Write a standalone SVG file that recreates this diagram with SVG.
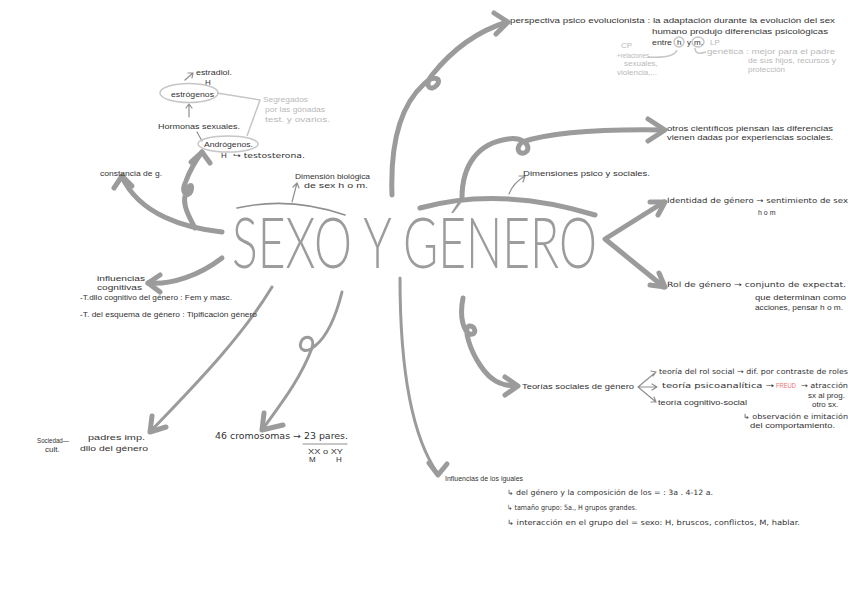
<svg xmlns="http://www.w3.org/2000/svg" width="848" height="599" viewBox="0 0 848 599">
<style>
.c{fill:none;stroke:#9b9b9b;stroke-width:5;stroke-linecap:round;stroke-linejoin:round}
.m{fill:none;stroke:#9b9b9b;stroke-width:3;stroke-linecap:round;stroke-linejoin:round}
.th{fill:none;stroke:#8f8f8f;stroke-width:1.2;stroke-linecap:round;stroke-linejoin:round}
.lt{fill:none;stroke:#c6c6c6;stroke-width:1.5}
text{font-family:"Liberation Sans",Arial,sans-serif;font-size:8px;fill:#333333}
text.a{font-family:"DejaVu Sans",sans-serif;font-size:7.3px}
text.s{font-size:7px}
.g{fill:#b9b9b9}
.r{fill:#f07070}
.ttl{font-family:Lato,"Open Sans","Liberation Sans",sans-serif;font-weight:300;font-size:70px;fill:#9c9c9c}
</style>
<rect width="848" height="599" fill="#ffffff"/>

<g id="connectors">
  <path class="c" d="M392,195 C390,140 402,104 424,84 C434,74 442,79 437,85 C431,92 423,86 432,75 C452,50 478,31 507,22"/>
  <path class="c" d="M494,13 L508,22 L496,34"/>
  <path class="c" d="M462,198 C462,165 478,143 508,139 C521,137 531,144 527,151 C522,157 513,150 522,142 C552,132 600,129 664,130"/>
  <path class="c" d="M648,119 L665,130 L648,141"/>
  <path class="c" d="M420,208 Q500,186 595,215"/>
  <path class="th" d="M509,194 Q513,183 525,176 M519,176 L525,176 L523,182"/>
  <path class="th" style="stroke-width:1.6" d="M237,208 Q290,196 345,215"/>
  <path class="th" d="M292,202 L297,183 M293,187 L297,183 L299,188"/>
  <path class="c" d="M664,202 L605,239 L664,287"/>
  <path class="c" d="M650,202 L665,202 L658,215"/>
  <path class="c" d="M659,273 L665,287 L650,285"/>
  <path class="c" d="M222,232 C185,228 140,215 122,177"/>
  <path class="c" d="M114,188 L122,176 L132,186"/>
  <path class="c" d="M222,258 C200,275 172,285 148,283"/>
  <path class="c" d="M160,275 L148,283 L160,292"/>
  <path class="c" d="M195,228 C188,215 183,205 185,196 C186,186 194,181 191,191 C188,199 180,193 186,181 C190,170 196,160 202,152"/>
  <path class="c" d="M191,162 L202,152 L210,163"/>
  <path class="m" d="M272,287 C240,340 190,390 150,432"/>
  <path class="c" d="M152,416 L150,432 L166,427"/>
  <path class="m" d="M342,292 C335,320 325,338 315,346 C306,354 298,350 301,342 C304,334 316,336 312,348 C300,380 280,405 262,430"/>
  <path class="c" d="M264,413 L262,430 L283,425"/>
  <path class="m" d="M400,278 C400,380 414,440 438,474"/>
  <path class="c" d="M429,463 L438,475 L447,464"/>
  <path class="c" d="M463,298 C459,318 464,332 470,334 C477,336 476,325 469,326 C463,328 470,350 480,365 C490,380 500,386 517,386"/>
  <path class="c" d="M505,377 L518,386 L505,395"/>
  <path class="th" d="M656,372 L638,387 L656,402 M638,387 L657,387 M651,371 L656,372 L653,376 M652,384 L657,387 L652,390 M651,402 L656,402 L654,397"/>
  <path class="th" d="M185,80 L193,73 M188,73 L193,73 L192,78"/>
  <path class="th" d="M189,117 L189,104 M186,108 L189,104 L192,108"/>
  <path class="th" d="M197,132 L202,141"/>
  <path class="lt" d="M217,93 L260,100 L247,136"/>
  <path class="lt" d="M677,50 C675,56 665,58 648,57"/>
  <path class="lt" d="M695,48 C695,54 700,54 706,52"/>
  <path class="th" d="M303,444 L347,444"/>
</g>

<g id="title">
  <text class="ttl" x="232" y="268" textLength="365" lengthAdjust="spacingAndGlyphs">SEXO Y GÉNERO</text>
</g>

<g id="perspectiva">
  <text x="510" y="23" textLength="325" lengthAdjust="spacingAndGlyphs">perspectiva psico evolucionista : la adaptación durante la evolución del sex</text>
  <text x="652" y="34" textLength="176" lengthAdjust="spacingAndGlyphs">humano produjo diferencias psicológicas</text>
  <text x="652" y="45" textLength="20" lengthAdjust="spacingAndGlyphs">entre</text>
  <ellipse class="lt" cx="679" cy="42" rx="5" ry="5"/>
  <text x="677" y="45">h</text>
  <text x="687" y="45">y</text>
  <ellipse class="lt" cx="698" cy="42" rx="6" ry="5"/>
  <text x="694" y="45">m.</text>
  <text class="g" x="710" y="45">LP</text>
  <text class="g" x="621" y="48">CP</text>
  <text class="g" x="617" y="58" textLength="32" lengthAdjust="spacingAndGlyphs">+relaciones</text>
  <text class="g" x="624" y="66">sexuales,</text>
  <text class="g" x="617" y="75">violencia,...</text>
  <text class="g" x="707" y="54" textLength="128" lengthAdjust="spacingAndGlyphs">genética : mejor para el padre</text>
  <text class="g" x="748" y="63" textLength="88" lengthAdjust="spacingAndGlyphs">de sus hijos, recursos y</text>
  <text class="g" x="748" y="72">protección</text>
</g>

<g id="otros">
  <text x="667" y="131" textLength="166" lengthAdjust="spacingAndGlyphs">otros científicos piensan las diferencias</text>
  <text x="667" y="140" textLength="166" lengthAdjust="spacingAndGlyphs">vienen dadas por experiencias sociales.</text>
</g>

<g id="dimensiones">
  <text x="523" y="176" textLength="127" lengthAdjust="spacingAndGlyphs">Dimensiones psico y sociales.</text>
</g>

<g id="identidad">
  <text class="a" x="667" y="203" textLength="181" lengthAdjust="spacingAndGlyphs">Identidad de género → sentimiento de sex</text>
  <text class="s" x="758" y="215">h o m</text>
</g>

<g id="rol">
  <text class="a" x="667" y="287" textLength="179" lengthAdjust="spacingAndGlyphs">Rol de género → conjunto de expectat.</text>
  <text x="755" y="300" textLength="91" lengthAdjust="spacingAndGlyphs">que determinan como</text>
  <text x="755" y="310" textLength="88" lengthAdjust="spacingAndGlyphs">acciones, pensar  h o m.</text>
</g>

<g id="teorias">
  <text x="522" y="389" textLength="112" lengthAdjust="spacingAndGlyphs">Teorías sociales de género</text>
  <text class="a" x="659" y="374" textLength="189" lengthAdjust="spacingAndGlyphs">teoría del rol social → dif. por contraste de roles</text>
  <text class="a" x="662" y="388" textLength="112" lengthAdjust="spacingAndGlyphs">teoría   psicoanalítica →</text>
  <text class="r" x="776" y="388" textLength="20" lengthAdjust="spacingAndGlyphs">FREUD</text>
  <text class="a" x="801" y="388" textLength="47" lengthAdjust="spacingAndGlyphs">→ atracción</text>
  <text x="808" y="398">sx al prog.</text>
  <text x="812" y="407">otro sx.</text>
  <text x="658" y="405" textLength="89" lengthAdjust="spacingAndGlyphs">teoría cognitivo-social</text>
  <text class="a" x="743" y="419" textLength="105" lengthAdjust="spacingAndGlyphs">↳ observación e imitación</text>
  <text x="750" y="428" textLength="85" lengthAdjust="spacingAndGlyphs">del comportamiento.</text>
</g>

<g id="iguales">
  <text x="445" y="481" textLength="78" lengthAdjust="spacingAndGlyphs">Influencias de los iguales</text>
  <text class="a" x="507" y="495" textLength="206" lengthAdjust="spacingAndGlyphs">↳ del género y la composición de los = : 3a . 4-12 a.</text>
  <text class="a" x="507" y="510" textLength="130" lengthAdjust="spacingAndGlyphs">↳ tamaño grupo: 5a., H grupos grandes.</text>
  <text class="a" x="507" y="525" textLength="293" lengthAdjust="spacingAndGlyphs">↳ interacción en el grupo del = sexo: H, bruscos, conflictos, M, hablar.</text>
</g>

<g id="constancia">
  <text x="100" y="176" textLength="62" lengthAdjust="spacingAndGlyphs">constancia de g.</text>
</g>

<g id="biologica">
  <text x="295" y="179" textLength="75" lengthAdjust="spacingAndGlyphs">Dimensión biológica</text>
  <text x="304" y="188" textLength="64" lengthAdjust="spacingAndGlyphs">de sex h o m.</text>
</g>

<g id="hormonas">
  <text x="196" y="75" textLength="36" lengthAdjust="spacingAndGlyphs">estradiol.</text>
  <text x="205" y="85">H</text>
  <ellipse class="lt" cx="189" cy="93" rx="29" ry="9.5"/>
  <text x="171" y="97" textLength="43" lengthAdjust="spacingAndGlyphs">estrógenos</text>
  <text class="g" x="263" y="102" textLength="45" lengthAdjust="spacingAndGlyphs">Segregados</text>
  <text class="g" x="265" y="112" textLength="60" lengthAdjust="spacingAndGlyphs">por las gónadas</text>
  <text class="g" x="265" y="122" textLength="65" lengthAdjust="spacingAndGlyphs">test. y ovarios.</text>
  <text x="158" y="129" textLength="82" lengthAdjust="spacingAndGlyphs">Hormonas sexuales.</text>
  <ellipse class="lt" cx="228" cy="144" rx="30" ry="8"/>
  <text x="204" y="147" textLength="49" lengthAdjust="spacingAndGlyphs">Andrógenos.</text>
  <text x="221" y="158">H</text>
  <text class="a" x="233" y="158" textLength="72" lengthAdjust="spacingAndGlyphs">↪ testosterona.</text>
</g>

<g id="cognitivas">
  <text x="97" y="281" textLength="48" lengthAdjust="spacingAndGlyphs">influencias</text>
  <text x="97" y="290" textLength="45" lengthAdjust="spacingAndGlyphs">cognitivas</text>
  <text x="80" y="300" textLength="152" lengthAdjust="spacingAndGlyphs">-T.dllo cognitivo del género : Fem y masc.</text>
  <text x="80" y="317" textLength="177" lengthAdjust="spacingAndGlyphs">-T. del esquema de género : Tipificación género</text>
</g>

<g id="padres">
  <text x="88" y="440" textLength="57" lengthAdjust="spacingAndGlyphs">padres imp.</text>
  <text x="80" y="451" textLength="68" lengthAdjust="spacingAndGlyphs">dllo del género</text>
  <text x="37" y="443" font-size="6" textLength="32" lengthAdjust="spacingAndGlyphs">Sociedad—</text>
  <text x="45" y="452" font-size="6">cult.</text>
</g>

<g id="cromosomas">
  <text class="a" x="215" y="439" style="font-size:9px" textLength="133" lengthAdjust="spacingAndGlyphs">46 cromosomas → 23 pares.</text>
  <text x="308" y="454" font-size="7" textLength="35" lengthAdjust="spacingAndGlyphs">XX o XY</text>
  <text x="309" y="462" font-size="7">M</text>
  <text x="336" y="462" font-size="7">H</text>
</g>
</svg>
